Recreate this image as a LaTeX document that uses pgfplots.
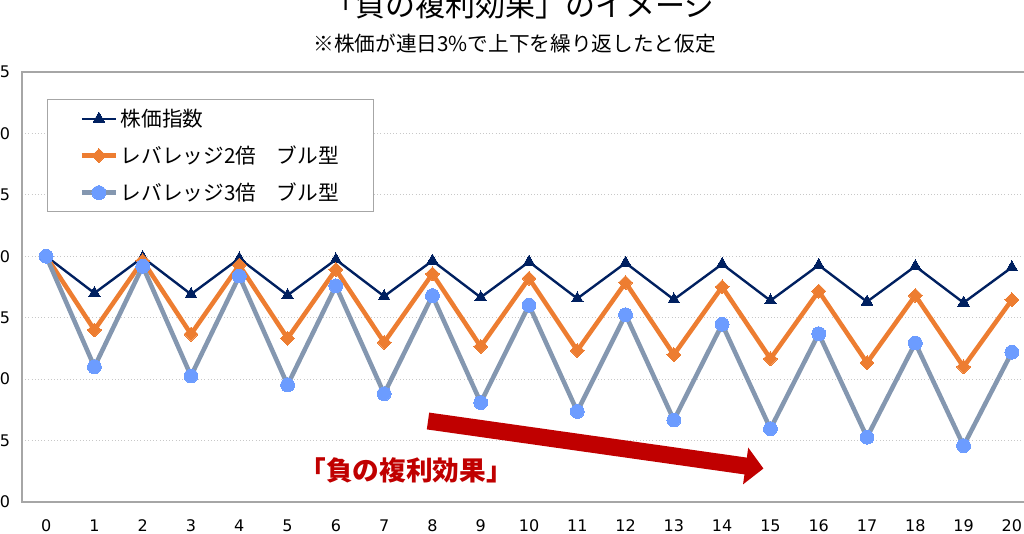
\documentclass[border=0pt]{standalone}
\usepackage{pgfplots}
\pgfplotsset{compat=1.18}
\usepackage{fontspec}
\setmainfont{DejaVu Sans}
\newfontfamily\cjk{Noto Sans CJK JP}
\usetikzlibrary{arrows.meta}
\definecolor{navy}{HTML}{002060}
\definecolor{orng}{HTML}{ED7D31}
\definecolor{greyblue}{HTML}{8497B0}
\definecolor{ltblue}{HTML}{6C9CFF}
\definecolor{dred}{HTML}{C00000}
\definecolor{axgray}{HTML}{A6A6A6}
\definecolor{grdgray}{HTML}{C8C8C8}
\begin{document}
\begin{tikzpicture}
\useasboundingbox (0,0) rectangle (768pt,400.5pt);
\clip (0,0) rectangle (768pt,400.5pt);
\begin{axis}[
  at={(16.5pt,24pt)}, anchor=south west,
  scale only axis, width=760.5pt, height=322.5pt,
  xmin=-0.5, xmax=20.5, ymin=80, ymax=115,
  xtick={0,1,...,20}, ytick={80,85,...,115},
  major tick length=0pt,
  /pgf/number format/assume math mode=true,
  ticklabel style={font=\fontsize{12pt}{14pt}\selectfont, text=black},
  xticklabel style={yshift=-10pt},
  yticklabel style={xshift=-5.5pt},
  axis line style={draw=axgray, line width=1pt},
  ymajorgrids, grid style={draw=grdgray, dotted, line width=0.6pt},
  legend style={at={(0.0247,0.937)}, anchor=north west,
    draw=axgray, line width=0.9pt, fill=white,
    font=\cjk\fontsize{15.5pt}{18pt}\selectfont,
    inner xsep=24pt, inner ysep=5pt, row sep=9pt,
    nodes={inner sep=2pt}},
  legend cell align=left,
  legend image code/.code={\draw[mark repeat=2,mark phase=2] plot coordinates {(0pt,0pt) (12.75pt,0pt) (25.5pt,0pt)};},
]
\addplot[navy, line width=1.8pt, mark=triangle*, mark size=5pt, mark options={solid, fill=navy, draw=navy, line width=0pt}] coordinates {
(0,100) (1,97) (2,99.91) (3,96.91) (4,99.82) (5,96.83) (6,99.73) (7,96.74) (8,99.64) (9,96.65) (10,99.55)
(11,96.56) (12,99.46) (13,96.48) (14,99.37) (15,96.39) (16,99.28) (17,96.30) (18,99.19) (19,96.22) (20,99.10)};
\addlegendentry{株価指数}
\addplot[orng, line width=3.4pt, mark=square*, mark size=3.7pt, mark options={solid, rotate=45, fill=orng, draw=orng, line width=0pt}] coordinates {
(0,100) (1,94) (2,99.64) (3,93.66) (4,99.28) (5,93.32) (6,98.92) (7,92.99) (8,98.57) (9,92.65) (10,98.21)
(11,92.32) (12,97.86) (13,91.99) (14,97.51) (15,91.66) (16,97.16) (17,91.33) (18,96.81) (19,91.00) (20,96.46)};
\addlegendentry{レバレッジ2倍　ブル型}
\addplot[greyblue, line width=3.4pt, mark=*, mark size=5.2pt, mark options={solid, fill=ltblue, draw=ltblue, line width=0pt}] coordinates {
(0,100) (1,91) (2,99.19) (3,90.26) (4,98.39) (5,89.53) (6,97.59) (7,88.81) (8,96.80) (9,88.09) (10,96.02)
(11,87.37) (12,95.24) (13,86.67) (14,94.47) (15,85.96) (16,93.70) (17,85.27) (18,92.94) (19,84.58) (20,92.19)};
\addlegendentry{レバレッジ3倍　ブル型}
\end{axis}
\draw[dred, line width=12.75pt, -{Triangle[width=27pt,length=13.5pt]}] (321pt,84.75pt) -- (572.6pt,49.1pt);
\node[text=dred, font=\cjk\bfseries\fontsize{20pt}{22pt}\selectfont] at (304.5pt,48pt) {「負の複利効果」};
\node[anchor=base, font=\cjk\fontsize{15.5pt}{18pt}\selectfont] at (386pt,361.9pt) {※株価が連日3\%で上下を繰り返したと仮定};
\node[anchor=base, font=\cjk\fontsize{22.5pt}{26pt}\selectfont] at (390pt,387.75pt) {「負の複利効果」のイメージ};
\end{tikzpicture}
\end{document}
